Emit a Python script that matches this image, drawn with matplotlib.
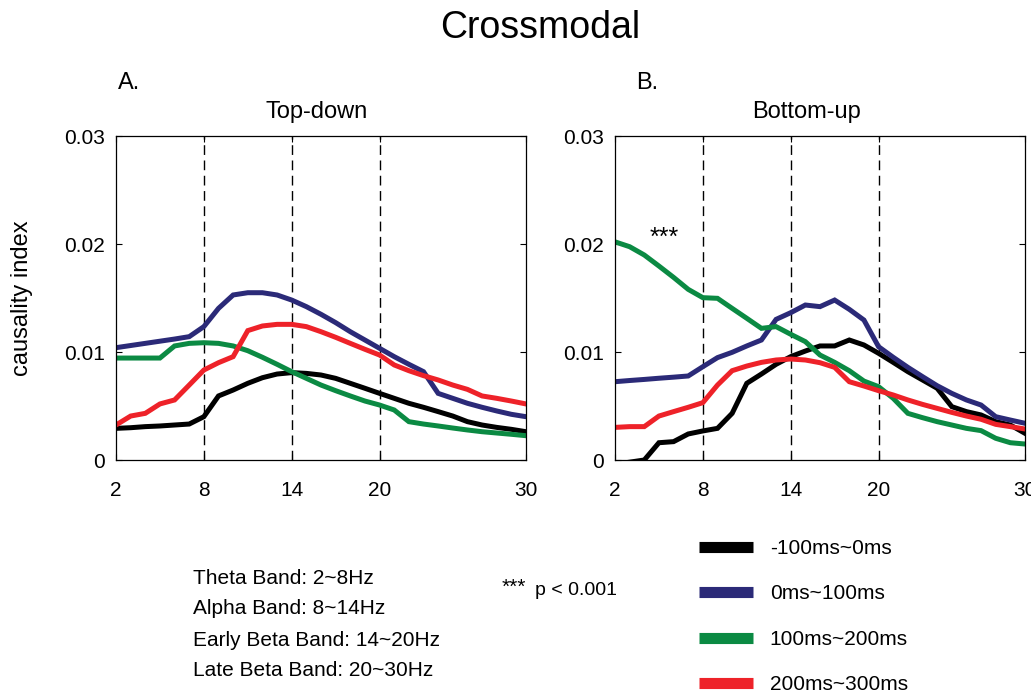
import matplotlib.pyplot as plt
from matplotlib.lines import Line2D

plt.rcParams['font.family'] = ['Liberation Sans', 'DejaVu Sans']

## frequencies (Hz) and band edges
freqs = list(range(2, 31))
band_edges = [8, 14, 20]
xticks = [2, 8, 14, 20, 30]
yticks = [0, 0.01, 0.02, 0.03]
ytick_labels = ['0', '0.01', '0.02', '0.03']

## A. Top-down
td_pre = [0.00293, 0.00299, 0.00309, 0.00315, 0.00324, 0.00333, 0.00401, 0.00593, 0.00648, 0.00710,
          0.00762, 0.00796, 0.00809, 0.00802, 0.00787, 0.00756, 0.00710, 0.00664, 0.00617, 0.00571,
          0.00525, 0.00488, 0.00448, 0.00407, 0.00355, 0.00324, 0.00302, 0.00284, 0.00262]
td_0_100 = [0.01040, 0.01060, 0.01080, 0.01100, 0.01120, 0.01142, 0.01235, 0.01404, 0.01528, 0.01549,
            0.01549, 0.01528, 0.01481, 0.01420, 0.01349, 0.01272, 0.01188, 0.01111, 0.01034, 0.00957,
            0.00886, 0.00818, 0.00617, 0.00571, 0.00525, 0.00488, 0.00454, 0.00423, 0.00401]
td_100_200 = [0.00944, 0.00944, 0.00944, 0.00944, 0.01056, 0.01080, 0.01086, 0.01080, 0.01056, 0.01012,
              0.00951, 0.00886, 0.00818, 0.00756, 0.00694, 0.00642, 0.00593, 0.00546, 0.00509, 0.00463,
              0.00355, 0.00333, 0.00315, 0.00296, 0.00278, 0.00262, 0.00250, 0.00238, 0.00225]
td_200_300 = [0.00324, 0.00407, 0.00432, 0.00519, 0.00556, 0.00694, 0.00833, 0.00901, 0.00957, 0.01198,
              0.01241, 0.01256, 0.01256, 0.01235, 0.01188, 0.01136, 0.01080, 0.01025, 0.00972, 0.00880,
              0.00827, 0.00781, 0.00741, 0.00694, 0.00654, 0.00593, 0.00571, 0.00546, 0.00519]

## B. Bottom-up
bu_pre = [-0.0004, -0.0002, 0.0, 0.00160, 0.00170, 0.00241, 0.00269, 0.00293, 0.00432, 0.00710,
          0.00796, 0.00886, 0.00957, 0.01009, 0.01056, 0.01056, 0.01111, 0.01065, 0.00988, 0.00904,
          0.00818, 0.00741, 0.00664, 0.00494, 0.00448, 0.00417, 0.00355, 0.00324, 0.00247]
bu_0_100 = [0.00725, 0.00736, 0.00746, 0.00757, 0.00767, 0.00778, 0.00864, 0.00948, 0.00997, 0.01056,
            0.01111, 0.01302, 0.01364, 0.01435, 0.01420, 0.01481, 0.01395, 0.01296, 0.01049, 0.00951,
            0.00858, 0.00772, 0.00688, 0.00617, 0.00556, 0.00509, 0.00401, 0.00370, 0.00340]
bu_100_200 = [0.02020, 0.01975, 0.01898, 0.01796, 0.01691, 0.01580, 0.01503, 0.01497, 0.01404, 0.01312,
              0.01219, 0.01235, 0.01164, 0.01096, 0.00972, 0.00904, 0.00827, 0.00731, 0.00679, 0.00571,
              0.00432, 0.00392, 0.00355, 0.00324, 0.00293, 0.00272, 0.00201, 0.00160, 0.00148]
bu_200_300 = [0.00302, 0.00309, 0.00309, 0.00407, 0.00448, 0.00488, 0.00531, 0.00694, 0.00827, 0.00870,
              0.00904, 0.00926, 0.00935, 0.00926, 0.00901, 0.00858, 0.00725, 0.00685, 0.00642, 0.00602,
              0.00556, 0.00515, 0.00478, 0.00441, 0.00407, 0.00377, 0.00330, 0.00309, 0.00287]

labels = ['-100ms~0ms', '0ms~100ms', '100ms~200ms', '200ms~300ms']
colors = ['#000000', '#2b2a78', '#0b8a43', '#ee2229']
bands = ['Theta Band: 2~8Hz', 'Alpha Band: 8~14Hz',
         'Early Beta Band: 14~20Hz', 'Late Beta Band: 20~30Hz']

fig = plt.figure(figsize=(10.31, 6.93), dpi=100)
ax_a = fig.add_axes([116 / 1031, 233 / 693, 410 / 1031, 324 / 693])
ax_b = fig.add_axes([615 / 1031, 233 / 693, 410 / 1031, 324 / 693])


def draw_panel(ax, series, title, title_x):
    for x in band_edges:
        ax.axvline(x, color='k', linewidth=1, linestyle=(0, (7, 4)), zorder=1)
    for y, c in zip(series, colors):
        ax.plot(freqs, y, color=c, linewidth=3.6, zorder=2, solid_joinstyle='miter')
    ax.set_xlim(2, 30)
    ax.set_ylim(0, 0.03)
    ax.set_xticks(xticks)
    ax.set_yticks(yticks)
    ax.set_yticklabels(ytick_labels)
    ax.tick_params(direction='in', top=True, right=True, length=4, width=0.8,
                   labelsize=15)
    ax.tick_params(axis='x', pad=15)
    ax.tick_params(axis='y', pad=8)
    for s in ax.spines.values():
        s.set_linewidth(0.9)
    ax.text(title_x, 1.074, title, transform=ax.transAxes, ha='center',
            va='center', fontsize=17)


draw_panel(ax_a, [td_pre, td_0_100, td_100_200, td_200_300], 'Top-down', 0.49)
draw_panel(ax_b, [bu_pre, bu_0_100, bu_100_200, bu_200_300], 'Bottom-up', 0.466)

ax_b.text(5.38, 0.0199, '***', fontsize=18, ha='center', va='baseline')

fig.text(540 / 1031, 1 - 28 / 693, 'Crossmodal', fontsize=27, ha='center', va='center')
fig.text(118 / 1031, 1 - 83 / 693, 'A.', fontsize=17, va='center')
fig.text(636 / 1031, 1 - 83 / 693, 'B.', fontsize=17, va='center')
fig.text(22 / 1031, 1 - 298 / 693, 'causality index', fontsize=17, rotation=90,
         ha='center', va='center')

for i, b in enumerate(bands):
    fig.text(193 / 1031, 1 - (578 + 31 * i) / 693, b, fontsize=15, va='center')

fig.text(502 / 1031, 1 - 593 / 693, '***', fontsize=15, va='baseline')
fig.text(535 / 1031, 1 - 595 / 693, 'p < 0.001', fontsize=14, va='baseline')

handles = [Line2D([], [], color=c, linewidth=8, solid_capstyle='butt') for c in colors]
fig.legend(handles, labels, loc='upper left', bbox_to_anchor=(699 / 1031, 1 - 539 / 693),
           frameon=False, fontsize=15, handlelength=2.6, handletextpad=0.8,
           labelspacing=1.27, borderpad=0, borderaxespad=0)

fig.savefig('out.png', dpi=100)
